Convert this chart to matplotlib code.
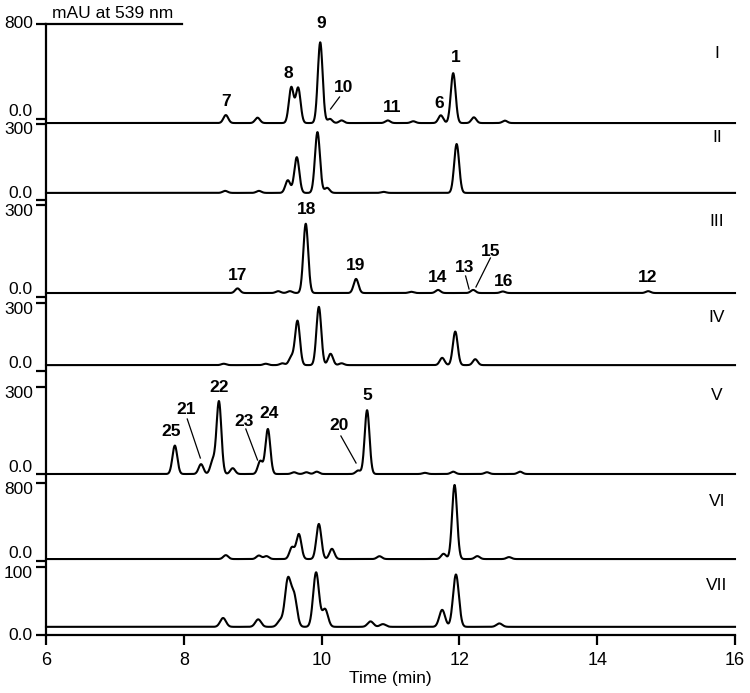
import numpy as np
import matplotlib
matplotlib.use("Agg")
import matplotlib.pyplot as plt
from matplotlib.transforms import blended_transform_factory

plt.rcParams['font.family'] = ['Liberation Sans', 'DejaVu Sans']

# ---- data: peaks per trace (retention time min, height mAU) ----
panel_names = ["I", "II", "III", "IV", "V", "VI", "VII"]
baseline_mau = [-34, 28, 13, 26, 0, 20, 12]

rt_I = [8.61, 9.07, 9.56, 9.66, 9.98, 10.12, 10.29, 10.96, 11.33, 11.73, 11.91, 12.21, 12.66]
h_I = [67, 45, 300, 295, 680, 35, 22, 22, 15, 65, 420, 48, 20]
rt_II = [8.60, 9.09, 9.51, 9.64, 9.94, 10.08, 10.9, 11.96]
h_II = [8, 8, 50, 141, 240, 20, 4, 193]
rt_III = [8.78, 9.37, 9.54, 9.77, 10.50, 11.3, 11.69, 12.20, 12.63, 14.74]
h_III = [15, 6, 6, 226, 46, 4, 10, 10, 5, 6]
rt_IV = [8.58, 9.19, 9.43, 9.56, 9.65, 9.96, 10.13, 10.29, 11.75, 11.94, 12.23]
h_IV = [6, 6, 8, 35, 195, 257, 50, 8, 32, 148, 26]
rt_V = [7.87, 8.25, 8.42, 8.51, 8.71, 9.11, 9.22, 9.6, 9.78, 9.93, 10.53, 10.66, 11.5, 11.91, 12.4, 12.88]
h_V = [98, 34, 45, 250, 20, 45, 155, 6, 6, 8, 12, 220, 4, 8, 6, 8]
rt_VI = [8.61, 9.09, 9.20, 9.57, 9.67, 9.96, 10.15, 10.84, 11.77, 11.93, 12.26, 12.72]
h_VI = [40, 36, 30, 120, 255, 360, 105, 29, 54, 760, 30, 20]
rt_VII = [8.57, 9.08, 9.40, 9.51, 9.60, 9.92, 10.05, 10.71, 10.89, 11.75, 11.95, 12.58]
h_VII = [13, 11, 9, 68, 45, 80, 26, 8, 4, 25, 77, 5]

peak_rt = [rt_I, rt_II, rt_III, rt_IV, rt_V, rt_VI, rt_VII]
peak_h = [h_I, h_II, h_III, h_IV, h_V, h_VI, h_VII]
peak_sigma = [0.035, 0.036, 0.035, 0.035, 0.035, 0.036, 0.042]

# y-axis tick values per trace (zero, top)
top_values = [800, 300, 300, 300, 300, 800, 100]
top_labels = ["800", "300", "300", "300", "300", "800", "100"]

# peak number labels: (trace index, text, time, height above x-axis in px-units)
peak_labels = [
    (0, "7", 8.62, 533), (0, "8", 9.52, 562), (0, "9", 10.00, 612), (0, "10", 10.32, 548),
    (0, "11", 11.03, 528), (0, "6", 11.71, 532), (0, "1", 11.94, 577),
    (2, "18", 9.78, 426), (2, "17", 8.78, 360), (2, "19", 10.50, 370), (2, "14", 11.68, 357),
    (2, "13", 12.07, 368), (2, "15", 12.46, 384), (2, "16", 12.64, 354), (2, "12", 14.73, 358),
    (4, "25", 7.82, 203), (4, "21", 8.03, 225), (4, "22", 8.51, 248), (4, "23", 8.87, 213),
    (4, "24", 9.24, 222), (4, "20", 10.26, 209), (4, "5", 10.66, 239),
]
leaders = [
    ((10.26, 538), (10.13, 526)),
    ((12.09, 359), (12.14, 346)),
    ((12.45, 377), (12.24, 348)),
    ((8.05, 216), (8.24, 177)),
    ((8.90, 206), (9.07, 175)),
    ((10.28, 199), (10.50, 172)),
]
roman_y = [582, 497, 414, 317, 240, 133, 50]

# ---- layout: pixel rows of each trace's zero and top tick (from bottom axis) ----
zero_h = [516, 435, 338, 264, 161, 74, 0]
top_h = [611, 511, 430, 332, 248, 152, 68]

t = np.linspace(6, 16, 3000)

fig = plt.figure(figsize=(7.5, 6.93), dpi=100)
ax = fig.add_axes([46 / 750, 58 / 693, 689 / 750, 611 / 693])
ax.set_xlim(6, 16)
ax.set_ylim(0, 611)

lab_tr = blended_transform_factory(ax.transAxes, ax.transData)
yticks = []
for i in range(len(panel_names)):
    k = (top_h[i] - zero_h[i]) / top_values[i]
    sig = np.full_like(t, baseline_mau[i], dtype=float)
    for rt, h in zip(peak_rt[i], peak_h[i]):
        sig += h * np.exp(-(t - rt) ** 2 / (2 * peak_sigma[i] ** 2))
    ax.plot(t, zero_h[i] + sig * k, color='black', lw=1.5, clip_on=False)
    yticks += [top_h[i], zero_h[i]]
    # tick labels pushed apart where two ticks sit close together
    dz = 0 if zero_h[i] == 0 else 7
    dt = 0 if i == 0 else -6
    ax.text(-0.019, zero_h[i] + dz, "0.0", transform=lab_tr, ha='right', va='center', fontsize=12.5)
    ax.text(-0.019, top_h[i] + dt, top_labels[i], transform=lab_tr, ha='right', va='center', fontsize=12.5)
    ax.text(15.74, roman_y[i], panel_names[i], ha='center', va='center', fontsize=12.5)

ax.set_yticks(yticks)
ax.set_yticklabels([])

for idx, txt, x, y in peak_labels:
    ax.text(x, y, txt, ha='center', va='center', fontsize=12.5, fontweight='bold')
for (x0, y0), (x1, y1) in leaders:
    ax.plot([x0, x1], [y0, y1], color='black', lw=0.9)

# top "axis" line with unit
ax.plot([6, 7.97], [611, 611], color='black', lw=1.6, clip_on=False)
ax.text(6.97, 622, "mAU at 539 nm", ha='center', va='center', fontsize=12.5)

ax.set_xticks([6, 8, 10, 12, 14, 16])
ax.set_xlabel("Time (min)", fontsize=12.5, labelpad=2)
ax.tick_params(axis='x', direction='out', length=7, width=1.6, labelsize=13, pad=5)
ax.tick_params(axis='y', direction='out', length=7, width=1.6)
for s in ['top', 'right']:
    ax.spines[s].set_visible(False)
for s in ['left', 'bottom']:
    ax.spines[s].set_linewidth(1.6)

fig.savefig("out.png", dpi=100)
